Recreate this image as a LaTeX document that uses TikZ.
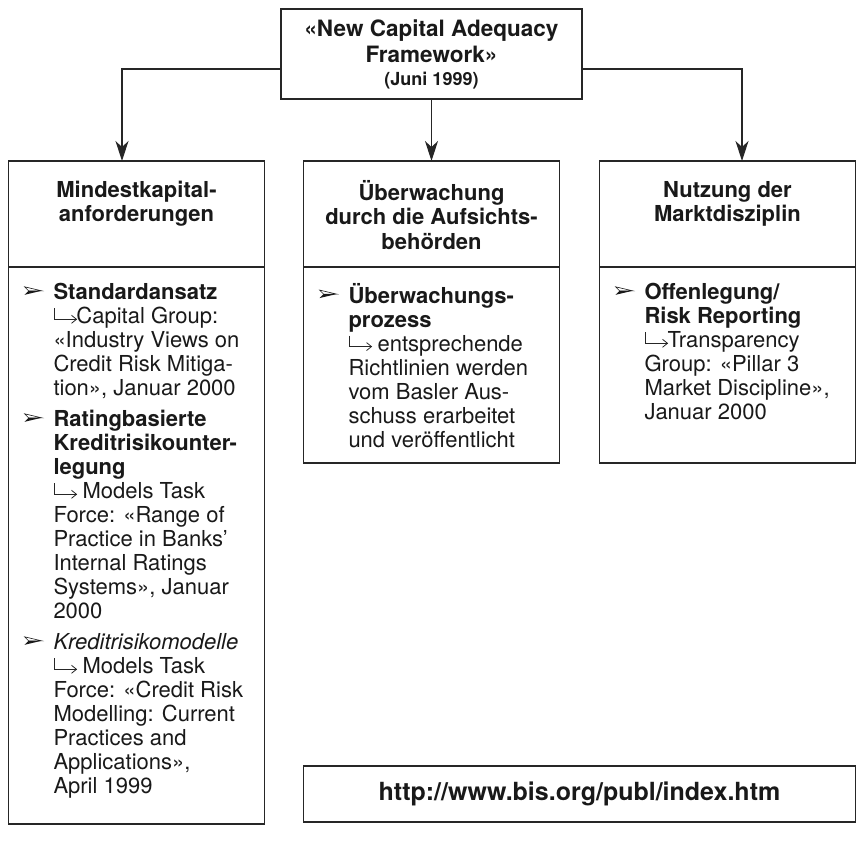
\documentclass[tikz,border=0pt]{standalone}
\usepackage{fontspec}
\usepackage{pict2e}
\setmainfont{TeX Gyre Heros}
\usetikzlibrary{positioning,arrows.meta}

% list marks
\setlength{\unitlength}{1pt}
\newcommand{\bulletmark}{\begin{picture}(17,13)\color{black!90}\polygon*(0,5)(17,9)(4,9)\linethickness{0.6pt}\polygon(0,13)(17,9)(4,9)\end{picture}}
\newcommand{\via}{\begin{picture}(23,16)\color{black!85}\linethickness{0.8pt}\polyline(0.6,15.5)(0.6,4.5)(23,4.5)\polyline(18,8.5)(23,4.5)(18,0.5)\end{picture}}
\newcommand{\itm}{\leavevmode\strut\llap{\bulletmark\hspace{12pt}}}
\newcommand{\bodyfont}{\fontsize{22}{24}\selectfont\leftskip=45pt\rightskip=0pt plus 1fil\parfillskip=0pt plus 1fil}
\newcommand{\headfont}{\fontsize{22}{24.5}\selectfont\bfseries\centering}

\begin{document}
\begin{tikzpicture}[x=1pt,y=-1pt,
    box/.style={draw=black!85,line width=1.2pt,inner sep=0pt,outer sep=0pt,text=black!90},
    arr/.style={draw=black!85,line width=1.2pt,-{Stealth[length=20pt,width=13pt,inset=6pt]}}]
    \useasboundingbox (0,0) rectangle (864,852);
    % top box
    \node[box] (t0) at (431.5,54){\begin{minipage}[t][90pt][t]{301pt}\fontsize{22.5}{26}\selectfont\bfseries\centering
      \vspace*{8.8pt}\strut«New Capital Adequacy\\ Framework»\\[-3pt]{\fontsize{18}{22}\selectfont (Juni 1999)}\end{minipage}};
    % headers
    \node[box] (h1) at (136.5,214){\begin{minipage}[t][106pt][t]{256pt}\headfont
      \vspace*{19pt}\strut Mindestkapital-\\ anforderungen\end{minipage}};
    \node[box, right=39pt of h1] (h2){\begin{minipage}[t][106pt][t]{256pt}\headfont
      \vspace*{19pt}\strut Überwachung\\ durch die Aufsichts-\\ behörden\end{minipage}};
    \node[box, right=40pt of h2] (h3){\begin{minipage}[t][106pt][t]{256pt}\headfont
      \vspace*{19pt}\strut Nutzung der\\ Marktdisziplin\end{minipage}};
    % bodies
    \node[box, below=0pt of h1] (b1){\begin{minipage}[t][557pt][t]{256pt}\bodyfont
      \vspace*{16pt}
      \itm\textbf{Standardansatz}\\
      \via Capital Group:\\
      «Industry Views on\\
      Credit Risk Mitiga-\\
      tion», Januar 2000\par\vspace{7pt}
      \itm\textbf{Ratingbasierte}\\
      \textbf{Kreditrisikounter-}\\
      \textbf{legung}\\
      \via{} Models Task\\
      Force: «Range of\\
      Practice in Banks’\\
      Internal Ratings\\
      Systems», Januar\\
      2000\par\vspace{7pt}
      \itm\textit{Kreditrisikomodelle}\\
      \via{} Models Task\\
      Force: «Credit Risk\\
      Modelling: Current\\
      Practices and\\
      Applications»,\\
      April 1999\par\end{minipage}};
    \node[box, below=0pt of h2] (b2){\begin{minipage}[t][196pt][t]{256pt}\bodyfont
      \vspace*{16pt}
      \itm\textbf{Überwachungs-}\\
      \textbf{prozess}\\
      \via{} entsprechende\\
      Richtlinien werden\\
      vom Basler Aus-\\
      schuss erarbeitet\\
      und veröffentlicht\par\end{minipage}};
    \node[box, below=0pt of h3] (b3){\begin{minipage}[t][196pt][t]{256pt}\bodyfont
      \vspace*{16pt}
      \itm\textbf{Offenlegung/}\\
      \textbf{Risk Reporting}\\
      \via Transparency\\
      Group: «Pillar 3\\
      Market Discipline»,\\
      Januar 2000\par\end{minipage}};
    % link
    \node[box, minimum width=552pt, minimum height=56pt] (u0) at (579.5,794){\fontsize{25}{28}\selectfont\bfseries http://www.bis.org/publ/index.htm};
    % arrows
    \draw[arr] ([yshift=-15pt]t0.west) -| ([xshift=-14.5pt]h1.north);
    \draw[arr] (t0.south) -- (h2.north);
    \draw[arr] ([yshift=-15pt]t0.east) -| ([xshift=14.5pt]h3.north);
\end{tikzpicture}
\end{document}
